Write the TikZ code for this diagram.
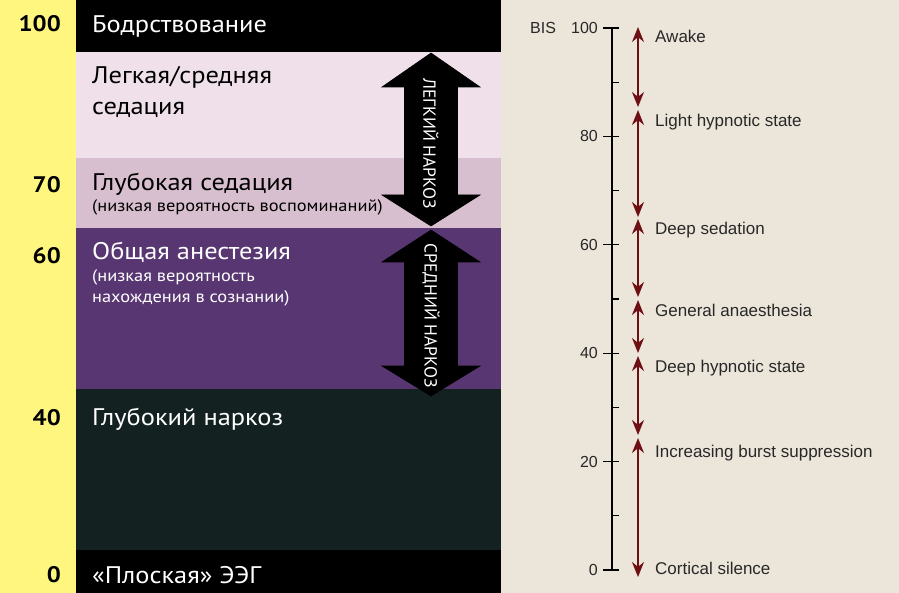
\documentclass[tikz,border=0pt]{standalone}
\usepackage{fontspec}
\setmainfont[FakeStretch=1.1]{PT Sans}
\newfontfamily\helv{Liberation Sans}
\newfontfamily\narrowf{PT Sans}
\usetikzlibrary{arrows.meta}
\definecolor{yel}{RGB}{255,246,128}
\definecolor{pinkA}{RGB}{239,224,234}
\definecolor{pinkB}{RGB}{216,191,207}
\definecolor{purp}{RGB}{88,54,114}
\definecolor{dgreen}{RGB}{19,33,33}
\definecolor{beige}{RGB}{236,229,218}
\definecolor{bisred}{RGB}{110,15,20}
\definecolor{labgray}{RGB}{40,40,40}
\tikzset{
  num/.style={anchor=base east, inner sep=0pt, font=\bfseries\fontsize{22.5}{22.5}\selectfont},
  title/.style={anchor=base west, inner sep=0pt, font=\fontsize{24}{24}\selectfont},
  sub/.style={anchor=base west, inner sep=0pt, font=\fontsize{16.7}{16.7}\selectfont},
  bigarrow/.style={fill=black, draw=black, line width=0.6pt},
  arrowtext/.style={rotate=-90, text=white, inner sep=0pt, font=\narrowf\fontsize{17.5}{17.5}\selectfont},
  axlab/.style={anchor=east, inner sep=0pt, text=labgray, font=\helv\fontsize{16}{16}\selectfont},
  bislab/.style={anchor=base west, inner sep=0pt, text=labgray, font=\helv\fontsize{17}{17}\selectfont},
  bisarrow/.style={draw=bisred, line width=1.6pt, {Stealth[length=15pt,width=12pt]}-{Stealth[length=15pt,width=12pt]}},
  axisline/.style={draw=black, line width=1.2pt},
}
\begin{document}
\begin{tikzpicture}[x=1pt,y=-1pt]
\useasboundingbox (0,0) rectangle (899,593);
% left panel bands
\fill[yel] (0,0) rectangle (76,593);
\fill[black] (76,0) rectangle (501,52);
\fill[pinkA] (76,52) rectangle (501,158);
\fill[pinkB] (76,158) rectangle (501,228);
\fill[purp] (76,228) rectangle (501,389);
\fill[dgreen] (76,389) rectangle (501,550);
\fill[black] (76,550) rectangle (501,593);
% right panel
\fill[beige] (501,0) rectangle (899,593);

% numbers
\node[num] (n100) at (61,32) {100};
\node[num] (n70) at (61,193) {70};
\node[num] (n60) at (61,264) {60};
\node[num] (n40) at (61,425) {40};
\node[num] (n0) at (61,582) {0};

% band texts
\node[title, text=white] (t1) at (92,33) {Бодрствование};
\node[title] (t2) at (92,84) {Легкая/средняя};
\node[title] (t2b) at (92,115) {седация};
\node[title] (t3) at (92,191) {Глубокая седация};
\node[sub] (t3b) at (92,212) {(низкая вероятность воспоминаний)};
\node[title, text=white] (t4) at (92,260) {Общая анестезия};
\node[sub, text=white] (t4b) at (92,282) {(низкая вероятность};
\node[sub, text=white] (t4c) at (92,303) {нахождения в сознании)};
\node[title, text=white] (t5) at (92,425) {Глубокий наркоз};
\node[title, text=white] (t6) at (92,583) {«Плоская» ЭЭГ};

% big double arrows
\draw[bigarrow] (431,53) -- (480,87) -- (457.5,87) -- (457.5,195) -- (480,195) -- (431,226)
  -- (382,195) -- (404.5,195) -- (404.5,87) -- (382,87) -- cycle;
\node[arrowtext] (a1) at (431,144) {ЛЕГКИЙ НАРКОЗ};
\draw[bigarrow] (431,230) -- (480,262) -- (457.5,262) -- (457.5,366) -- (480,366) -- (431,396)
  -- (382,366) -- (404.5,366) -- (404.5,262) -- (382,262) -- cycle;
\node[arrowtext] (a2) at (431,316) {СРЕДНИЙ НАРКОЗ};

% BIS axis
\coordinate (ax100) at (612,28);
\coordinate (ax0) at (612,570);
\draw[axisline] (ax100) -- (ax0);
\foreach \v in {0,20,40,60,80,100} {
  \draw[axisline] (603,{570-5.42*\v}) -- (619,{570-5.42*\v});
  \node[axlab] (l\v) at (598,{570-5.42*\v}) {\v};
}
\foreach \v in {10,30,50,70,90} {
  \draw[axisline] (612,{570-5.42*\v}) -- (619,{570-5.42*\v});
}
\node[axlab, anchor=west] (bis) at (530,28) {BIS};

% BIS arrows
\coordinate (p1) at (638,27);
\coordinate (p2) at (638,107);
\coordinate (p3) at (638,110);
\coordinate (p4) at (638,217);
\coordinate (p5) at (638,219);
\coordinate (p6) at (638,297);
\coordinate (p7) at (638,300);
\coordinate (p8) at (638,353);
\coordinate (p9) at (638,356);
\coordinate (p10) at (638,435);
\coordinate (p11) at (638,438);
\coordinate (p12) at (638,577);
\draw[bisarrow] (p1) -- (p2);
\draw[bisarrow] (p3) -- (p4);
\draw[bisarrow] (p5) -- (p6);
\draw[bisarrow] (p7) -- (p8);
\draw[bisarrow] (p9) -- (p10);
\draw[bisarrow] (p11) -- (p12);

% BIS labels
\node[bislab] (b1) at (655,43) {Awake};
\node[bislab] (b2) at (655,127) {Light hypnotic state};
\node[bislab] (b3) at (655,235) {Deep sedation};
\node[bislab] (b4) at (655,317) {General anaesthesia};
\node[bislab] (b5) at (655,372) {Deep hypnotic state};
\node[bislab] (b6) at (655,457) {Increasing burst suppression};
\node[bislab] (b7) at (655,574) {Cortical silence};
\end{tikzpicture}
\end{document}
